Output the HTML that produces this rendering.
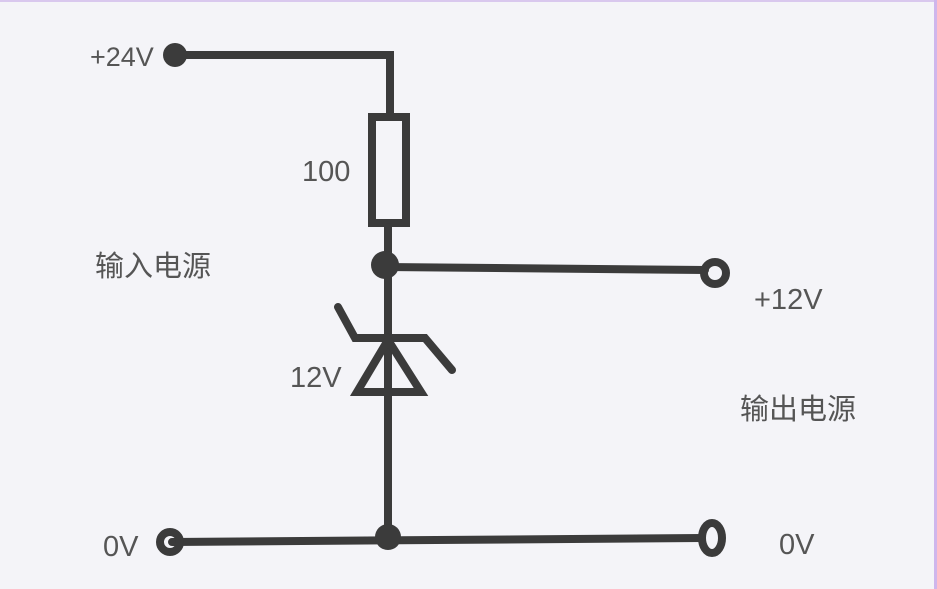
<!DOCTYPE html>
<html><head><meta charset="utf-8"><style>
html,body{margin:0;padding:0;}
body{width:937px;height:589px;background:#f4f4f8;overflow:hidden;position:relative;}
.t{position:absolute;font-family:"Liberation Sans","Noto Sans CJK SC",sans-serif;color:#555;font-size:29px;line-height:1;white-space:nowrap;}
</style></head><body>
<div style="position:absolute;left:0;top:0;width:937px;height:2px;background:#d9c8ee"></div>
<div style="position:absolute;right:0;top:0;width:3px;height:589px;background:#cfb6ec"></div>
<svg width="937" height="589" style="position:absolute;left:0;top:0">
<g stroke="#3b3b3b" stroke-width="8" fill="none" stroke-linejoin="miter" stroke-linecap="round">
<polyline points="175,55 390,55 390,113"/>
<rect x="372" y="117" width="34" height="106"/>
<line x1="388" y1="227" x2="388" y2="537"/>
<line x1="385" y1="267" x2="705" y2="270"/>
<polyline points="338,307 355,338 425,338 452,370"/>
<polygon points="388,340 357,392 421,392"/>
<line x1="172" y1="542" x2="702" y2="538"/>
<circle cx="715" cy="273" r="11"/>
<circle cx="170" cy="542" r="10"/>
<ellipse cx="712" cy="538" rx="10" ry="15"/>
</g>
<g fill="#3b3b3b">
<circle cx="175" cy="55" r="12"/>
<circle cx="385" cy="265" r="14"/>
<circle cx="388" cy="537" r="13"/>
</g>
</svg>
<div class="t" style="left:90px;top:44px;font-size:27px">+24V</div>
<div class="t" style="left:302px;top:158px">100</div>
<div class="t" style="left:95px;top:253px">输入电源</div>
<div class="t" style="left:754px;top:286px">+12V</div>
<div class="t" style="left:290px;top:364px">12V</div>
<div class="t" style="left:740px;top:396px">输出电源</div>
<div class="t" style="left:103px;top:533px">0V</div>
<div class="t" style="left:779px;top:531px">0V</div>
</body></html>
